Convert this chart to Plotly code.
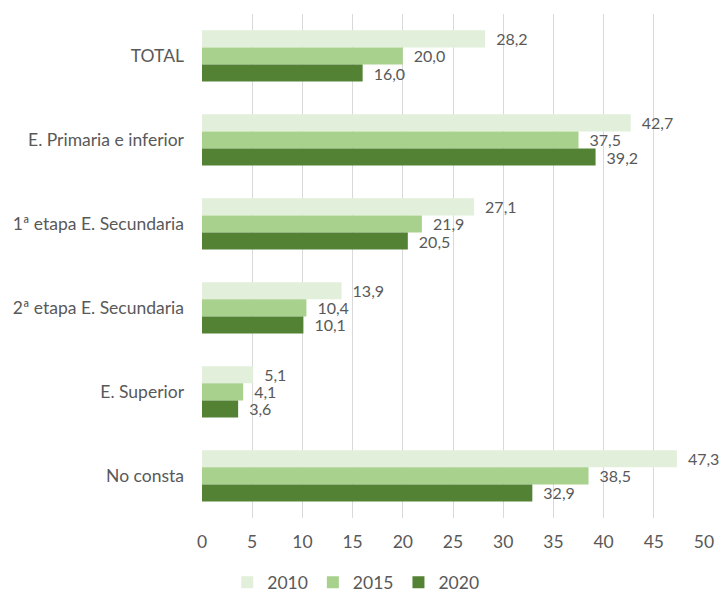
import plotly.graph_objects as go

categories = ["TOTAL", "E. Primaria e inferior", "1ª etapa E. Secundaria",
              "2ª etapa E. Secundaria", "E. Superior", "No consta"]
years = ["2010", "2015", "2020"]
values_2010 = [28.2, 42.7, 27.1, 13.9, 5.1, 47.3]
values_2015 = [20.0, 37.5, 21.9, 10.4, 4.1, 38.5]
values_2020 = [16.0, 39.2, 20.5, 10.1, 3.6, 32.9]
x_ticks = [0, 5, 10, 15, 20, 25, 30, 35, 40, 45, 50]

colors = ["#e2efda", "#a9d18e", "#548235"]
font_family = "Lato, 'Open Sans', sans-serif"
text_color = "#595959"

fig = go.Figure()
for name, vals, col in zip(years, [values_2010, values_2015, values_2020], colors):
    fig.add_trace(go.Bar(
        y=categories, x=vals, name=name, orientation="h",
        marker=dict(color=col, line=dict(width=0)),
        texttemplate="\u2002%{x:.1f}", textposition="outside",
        constraintext="none",
        textfont=dict(size=16, color=text_color, family=font_family),
        cliponaxis=False,
    ))

fig.update_layout(
    width=726, height=593,
    margin=dict(l=202, r=20, t=14, b=75),
    paper_bgcolor="white", plot_bgcolor="white",
    barmode="group", bargap=0.39, bargroupgap=0,
    separators=",.",
    font=dict(family=font_family, size=17.5, color=text_color),
    showlegend=True,
    legend=dict(orientation="h", xref="container", yref="container",
                x=0.49, xanchor="center", y=0.018, yanchor="middle",
                font=dict(size=17.5, color=text_color),
                itemwidth=30, traceorder="normal"),
    xaxis=dict(range=[0, 50], tickvals=x_ticks, showgrid=True,
               gridcolor="#d9d9d9", gridwidth=1, zeroline=False,
               showline=False, ticklabelstandoff=12,
               tickfont=dict(size=17.5, color=text_color)),
    yaxis=dict(autorange="reversed", showgrid=False, showline=False,
               ticklabelstandoff=17,
               tickfont=dict(size=17.5, color=text_color)),
)

fig.write_html("out.html")
